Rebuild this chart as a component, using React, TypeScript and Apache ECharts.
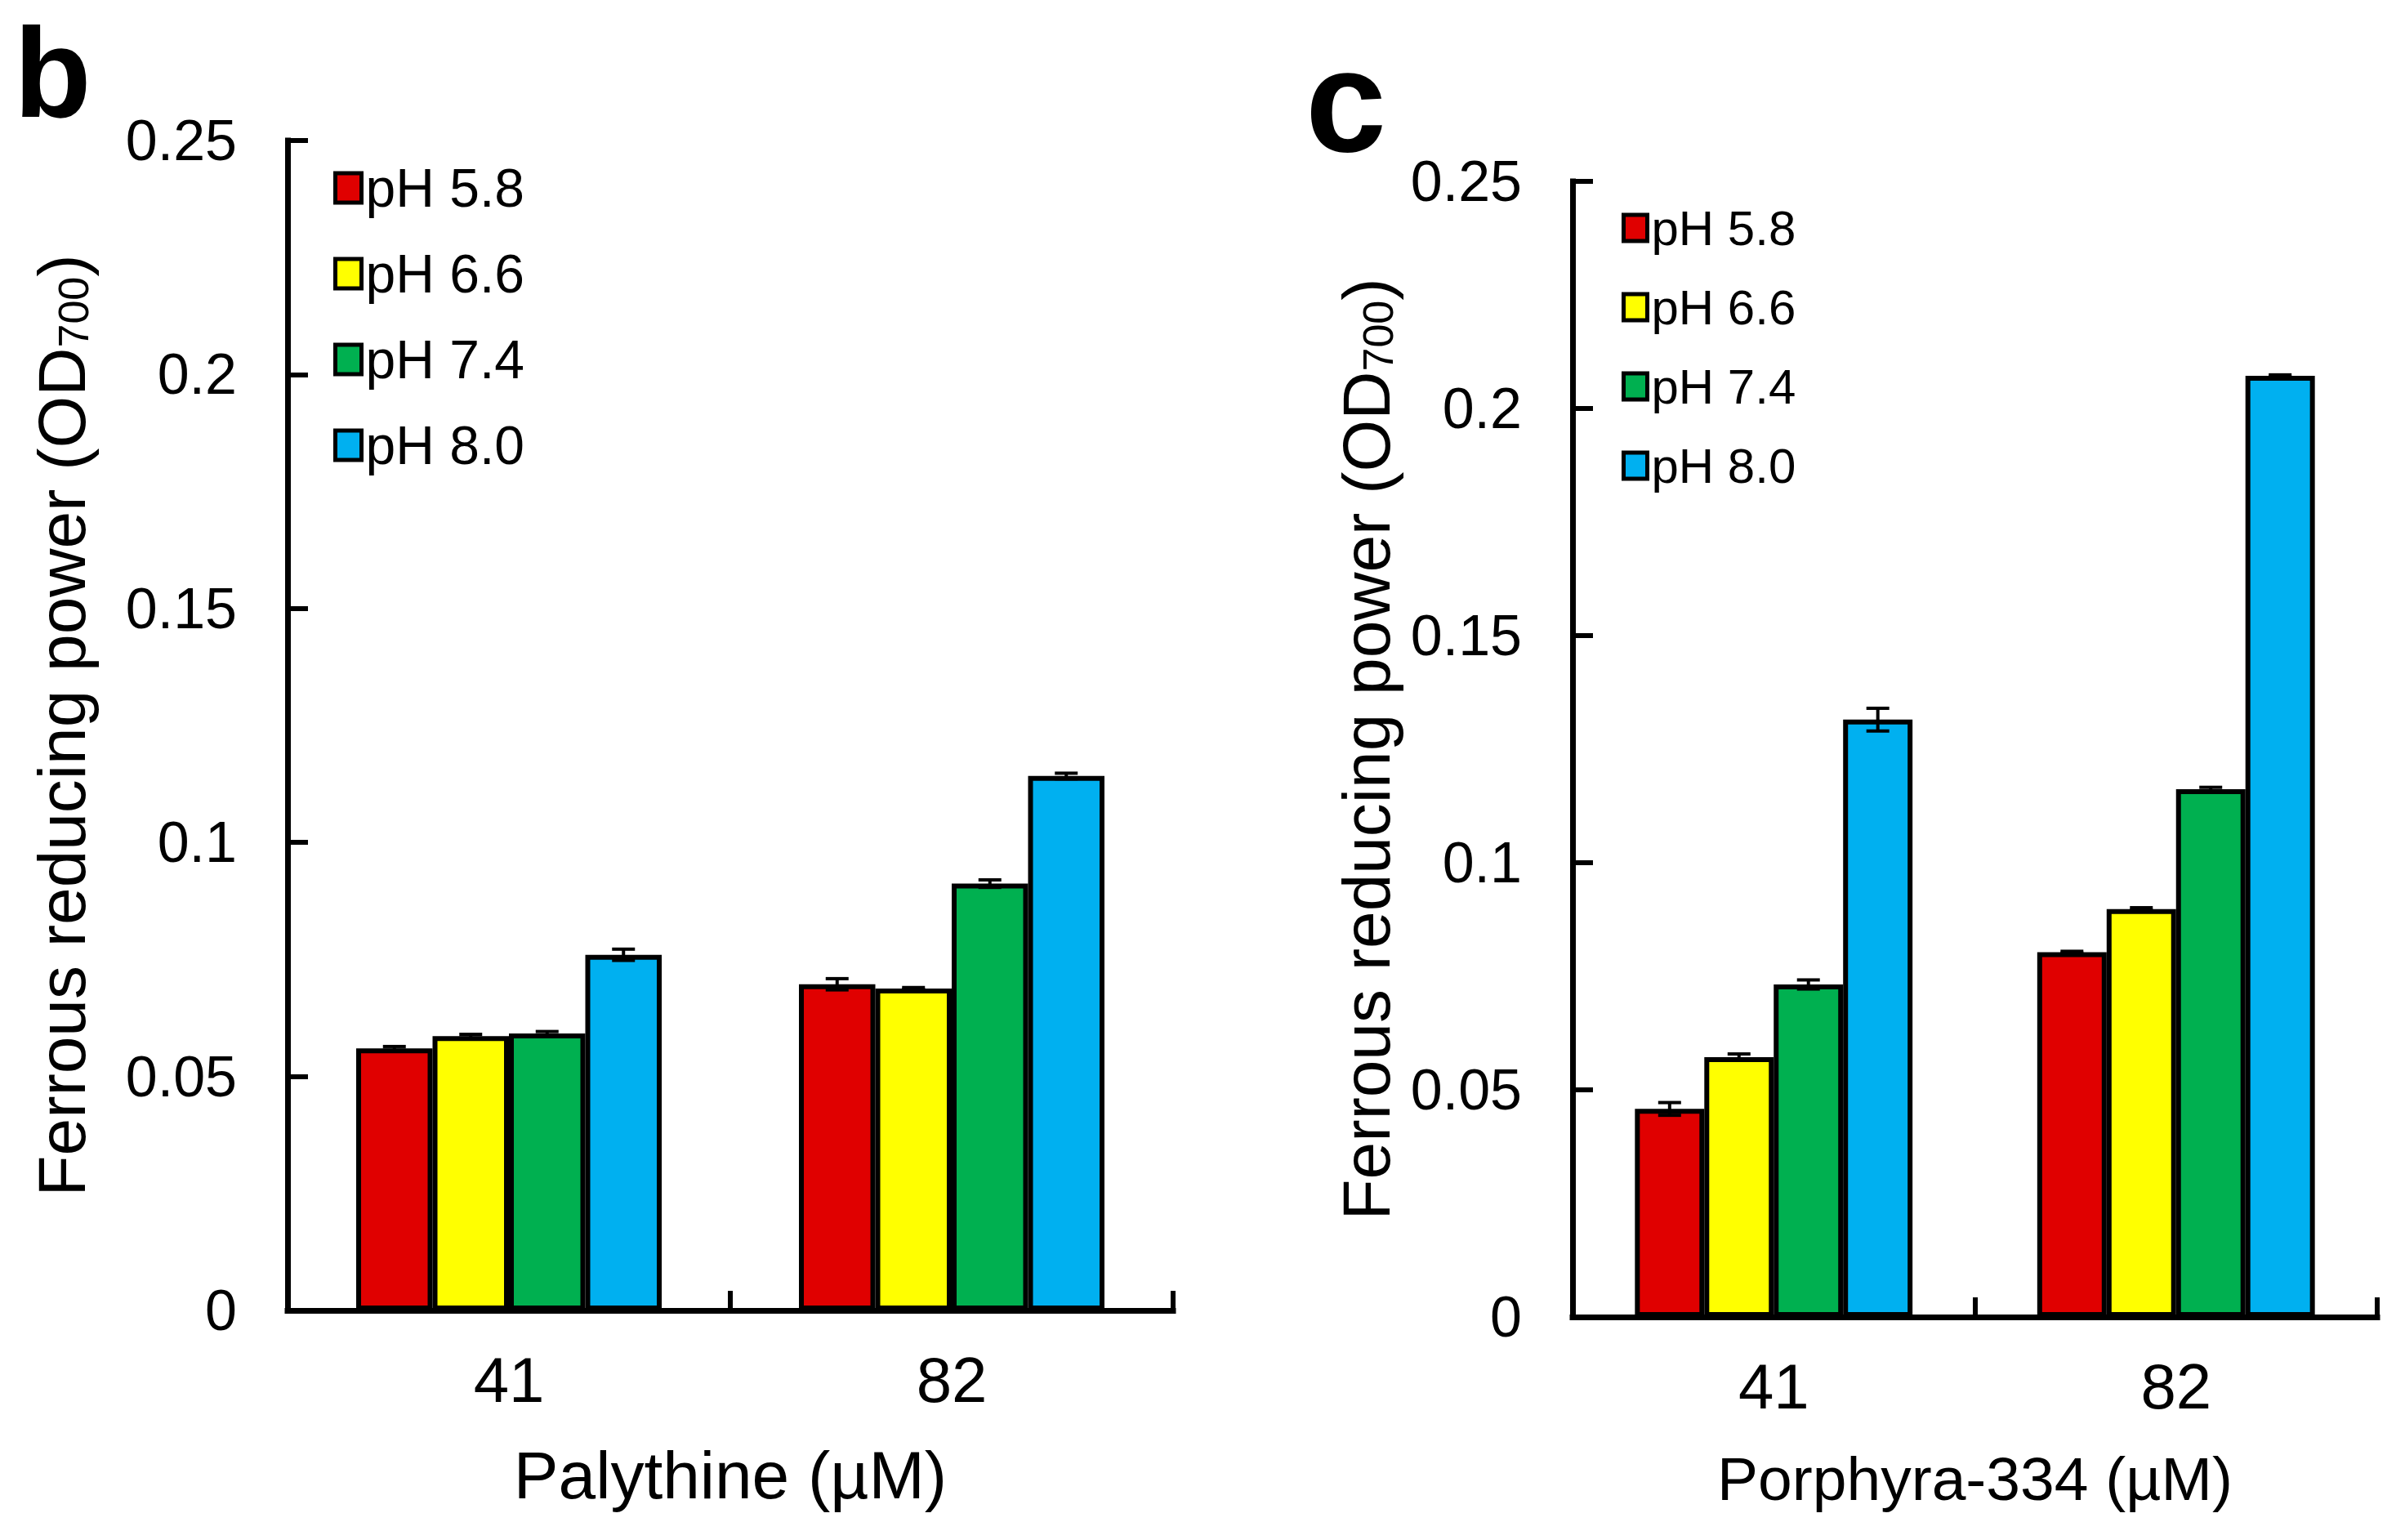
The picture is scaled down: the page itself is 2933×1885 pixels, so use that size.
import React, { useEffect, useRef } from "react";
import * as echarts from "echarts";

const categories = ["41", "82"];
const phNames = ["pH 5.8", "pH 6.6", "pH 7.4", "pH 8.0"];
const phColors = ["#E00000", "#FFFF00", "#00B050", "#00B0F0"];

// Panel b: Palythine, values per pH series at [41, 82] µM
const palythineMeans = [
  [0.056, 0.0697],
  [0.0586, 0.0688],
  [0.0592, 0.0912],
  [0.076, 0.1142],
];
const palythineErrors = [
  [0.0004, 0.0012],
  [0.0004, 0.0002],
  [0.0004, 0.0008],
  [0.0012, 0.0006],
];

// Panel c: Porphyra-334
const porphyraMeans = [
  [0.0458, 0.0803],
  [0.0572, 0.0898],
  [0.0732, 0.1162],
  [0.1315, 0.2072],
];
const porphyraErrors = [
  [0.0014, 0.0002],
  [0.0007, 0.0003],
  [0.001, 0.0004],
  [0.0025, 0.0002],
];

const yMin = 0;
const yMax = 0.25;
const yInterval = 0.05;

const FONT = "'Liberation Sans', Arial, sans-serif";
const CAT_GAP = 0.31;

function errRender(params: any, api: any) {
  const cat = api.value(0);
  const v = api.value(1);
  const e = api.value(2);
  const s = api.value(3);
  const c = api.coord([cat, v]);
  const band = api.size([1, 0])[0];
  const groupW = band * (1 - CAT_GAP);
  const bw = groupW / 4;
  const x = c[0] - groupW / 2 + bw * (s + 0.5);
  const yHi = api.coord([cat, v + e])[1];
  const yLo = api.coord([cat, v - e])[1];
  const hw = 14;
  const st = { stroke: "#000", lineWidth: 4 };
  return {
    type: "group",
    children: [
      { type: "line", shape: { x1: x, y1: yHi, x2: x, y2: yLo }, style: st },
      { type: "line", shape: { x1: x - hw, y1: yHi, x2: x + hw, y2: yHi }, style: st },
      { type: "line", shape: { x1: x - hw, y1: yLo, x2: x + hw, y2: yLo }, style: st },
    ],
  };
}

function xAxisFor(gridIndex: number, name: string, nameSize: number) {
  return {
    type: "category",
    gridIndex,
    data: categories,
    boundaryGap: true,
    axisLine: { show: true, lineStyle: { color: "#000", width: 7, cap: "square" } },
    axisTick: { show: true, inside: true, length: 24, alignWithLabel: false, lineStyle: { color: "#000", width: 6 } },
    axisLabel: { margin: 46, fontSize: 78, color: "#000", fontFamily: FONT },
    name,
    nameLocation: "middle",
    nameGap: 160,
    nameTextStyle: { fontSize: nameSize, color: "#000", fontFamily: FONT },
    splitLine: { show: false },
  };
}

function yAxisFor(gridIndex: number, nameGap: number, labelSize: number) {
  return {
    type: "value",
    gridIndex,
    min: yMin,
    max: yMax,
    interval: yInterval,
    axisLine: { show: true, lineStyle: { color: "#000", width: 7, cap: "square" } },
    axisTick: { show: true, inside: true, length: 25, lineStyle: { color: "#000", width: 6 } },
    axisLabel: { margin: 62, fontSize: labelSize, color: "#000", fontFamily: FONT },
    splitLine: { show: false },
    name: "{a|Ferrous reducing power (OD}{s|700}{a|)}",
    nameLocation: "middle",
    nameGap,
    nameTextStyle: {
      color: "#000",
      fontFamily: FONT,
      fontSize: 82,
      rich: {
        a: { fontSize: 82, lineHeight: 82, fontFamily: FONT, color: "#000" },
        s: { fontSize: 52, lineHeight: 44, verticalAlign: "bottom", fontFamily: FONT, color: "#000" },
      },
    },
  };
}

function barSeries(axisIndex: number, means: number[][]) {
  return means.map((vals, i) => ({
    type: "bar",
    name: phNames[i],
    xAxisIndex: axisIndex,
    yAxisIndex: axisIndex,
    data: vals,
    barGap: "0%",
    barCategoryGap: CAT_GAP * 100 + "%",
    itemStyle: { color: phColors[i], borderColor: "#000", borderWidth: 6 },
    z: 2,
  }));
}

function errSeries(axisIndex: number, means: number[][], errs: number[][]) {
  const data: number[][] = [];
  means.forEach((vals, s) => {
    vals.forEach((v, c) => {
      data.push([c, v, errs[s][c], s]);
    });
  });
  return {
    type: "custom",
    xAxisIndex: axisIndex,
    yAxisIndex: axisIndex,
    renderItem: errRender,
    data,
    encode: { x: 0, y: 1 },
    z: 5,
    silent: true,
  };
}

function legendFor(left: number, top: number, iw: number, ih: number, fs: number, gap: number) {
  return {
    orient: "vertical",
    left,
    top,
    padding: 0,
    itemWidth: iw,
    itemHeight: ih,
    itemGap: gap,
    icon: "rect",
    selectedMode: false,
    data: phNames,
    itemStyle: { borderColor: "#000", borderWidth: 5 },
    textStyle: { fontSize: fs, lineHeight: fs, color: "#000", fontFamily: FONT, padding: [0, 0, 0, 0] },
  };
}

export default function App() {
  const ref = useRef<HTMLDivElement>(null);
  useEffect(() => {
    document.body.style.margin = "0";
    if (!ref.current) return;
    const chart = echarts.init(ref.current, undefined, { renderer: "svg" });
    const option = {
      animation: false,
      backgroundColor: "#fff",
      textStyle: { fontFamily: FONT },
      grid: [
        { left: 352, top: 172, width: 1084, height: 1432 },
        { left: 1925, top: 222, width: 985, height: 1390 },
      ],
      xAxis: [xAxisFor(0, "Palythine (µM)", 82), xAxisFor(1, "Porphyra-334 (µM)", 75)],
      yAxis: [yAxisFor(0, 236, 70), yAxisFor(1, 212, 70)],
      legend: [legendFor(408, 197, 32, 36, 66, 39), legendFor(1985, 249, 29, 32, 60, 37)],
      series: [
        ...barSeries(0, palythineMeans),
        errSeries(0, palythineMeans, palythineErrors),
        ...barSeries(1, porphyraMeans),
        errSeries(1, porphyraMeans, porphyraErrors),
      ],
      graphic: [
        {
          type: "text",
          left: 17,
          top: 12,
          style: { text: "b", fontSize: 155, fontWeight: "bold", fill: "#000", fontFamily: FONT },
        },
        {
          type: "text",
          left: 1598,
          top: 34,
          style: { text: "c", fontSize: 178, fontWeight: "bold", fill: "#000", fontFamily: FONT },
        },
      ],
    };
    chart.setOption(option as any);
    return () => chart.dispose();
  }, []);
  return <div ref={ref} style={{ width: 2933, height: 1885 }} />;
}
